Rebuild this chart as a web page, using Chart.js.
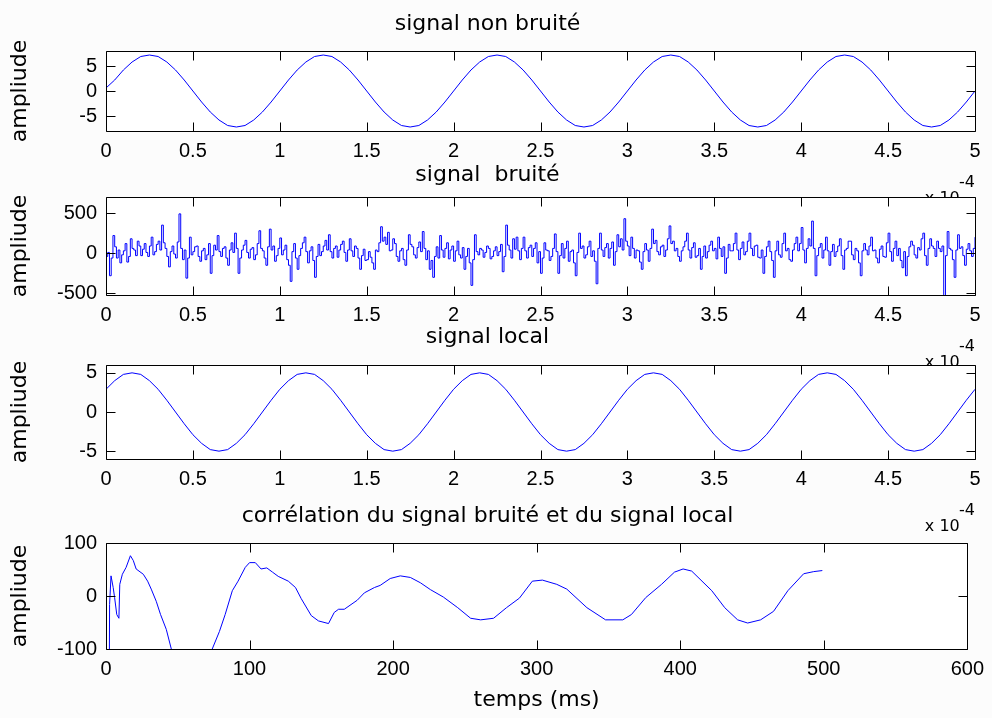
<!DOCTYPE html>
<html>
<head>
<meta charset="utf-8">
<script src="https://cdn.jsdelivr.net/npm/chart.js@4.4.1/dist/chart.umd.min.js"></script>
<style>
  html, body { margin: 0; padding: 0; background: #fcfcfc; }
  #figure { position: relative; width: 992px; height: 718px; overflow: hidden; }
  #figure canvas { position: absolute; left: 0; }
</style>
</head>
<body>
<div id="figure">
  <canvas id="c1"></canvas>
  <canvas id="c2"></canvas>
  <canvas id="c3"></canvas>
  <canvas id="c4"></canvas>
</div>
<script>
// pas d'échantillonnage (axe en x 10^-4 s)
const pasSignal = 0.05;
const pasBruit = 0.01;

const signalNonBruite = [
  0.6, 2.2, 4.2, 5.8, 6.9, 7.2, 6.9, 5.8, 4.2, 2.2, 0, -2.2, -4.2, -5.8, -6.9, -7.2, -6.9, -5.8, -4.2, -2.2,
  0, 2.2, 4.2, 5.8, 6.9, 7.2, 6.9, 5.8, 4.2, 2.2, 0, -2.2, -4.2, -5.8, -6.9, -7.2, -6.9, -5.8, -4.2, -2.2,
  0, 2.2, 4.2, 5.8, 6.9, 7.2, 6.9, 5.8, 4.2, 2.2, 0, -2.2, -4.2, -5.8, -6.9, -7.2, -6.9, -5.8, -4.2, -2.2,
  0, 2.2, 4.2, 5.8, 6.9, 7.2, 6.9, 5.8, 4.2, 2.2, 0, -2.2, -4.2, -5.8, -6.9, -7.2, -6.9, -5.8, -4.2, -2.2,
  0, 2.2, 4.2, 5.8, 6.9, 7.2, 6.9, 5.8, 4.2, 2.2, 0, -2.2, -4.2, -5.8, -6.9, -7.2, -6.9, -5.8, -4.2, -2.2,
  0
];

const signalBruite = [
  -40, 10, -280, -60, 220, 80, -60, 40, -120, -20, 30, 120, -110, -40, 180, 60, 40, -30, 150, 90,
  -30, 50, 120, 10, -40, 90, 200, -20, 20, 110, 150, 40, 350, 130, 60, -40, -170, 20, 90, -10,
  -60, 140, 490, 60, -80, 40, -310, -60, 200, -20, 20, 80, 90, -40, -100, 30, 60, -80, -20, 120,
  -250, -30, 100, 40, 220, 20, -40, 60, 80, -60, -150, 40, 130, 10, 250, 60, -250, -60, 40, 100,
  160, 10, -60, 50, 70, -80, -20, 120, 280, 60, 30, -60, -150, 80, 300, 40, 90, -100, -30, 60,
  190, -20, 40, 100, -80, -150, -350, 20, 120, -60, -200, -30, 60, 130, 200, 20, -120, 30, 80, -90,
  -300, -40, 110, -30, 20, 90, 160, 40, 230, 20, -60, 60, 90, -50, 40, 110, 150, 10, -100, 40,
  180, 30, -40, 90, 60, -60, -200, -30, 50, -90, -80, 20, -50, -120, -200, 40, 20, 130, 330, 150,
  200, 110, 260, 30, 40, 180, 120, -40, -100, 30, 60, -80, -150, 40, 230, 110, 80, -20, -60, 70,
  140, 20, 270, 60, -80, 30, -200, -90, -300, -40, 80, -60, 220, 40, -50, 60, 130, -70, 40, 90,
  -100, 30, 150, -20, -60, 70, -200, -40, 60, -120, -400, -80, 230, 20, -20, 60, 40, -50, 10, 90,
  60, -70, -40, 30, 80, -30, 20, 110, -230, -40, 350, 100, 40, -60, 180, 50, 200, 30, -80, 60,
  200, 30, -60, 70, 100, -40, 60, 130, -120, 20, -250, -60, 130, 40, 30, -90, -40, 60, 240, 20,
  -250, -30, 120, -60, 60, 150, -100, 20, 40, -120, -280, 10, 250, 60, 90, -60, -20, 80, 150, -40,
  30, -100, -380, 60, 250, 40, -40, 70, 120, -60, 60, 140, -150, 20, 230, 80, 180, 40, 430, 150,
  90, -30, 200, 60, -60, 40, 30, -110, -200, 20, 120, 40, -100, 60, 300, 120, 160, 20, -20, 80,
  100, -40, 40, 180, 340, 120, 150, 30, 60, -40, -100, 30, 80, 150, 250, 40, -60, 70, 130, -50,
  -30, 60, -200, -40, 90, -60, 20, 100, 150, 30, 60, -70, 200, 60, -40, 80, -250, -60, 110, 30,
  30, 120, 250, 40, -80, 60, 140, -20, 20, 150, 250, 60, -30, 90, 100, -50, -60, 40, -250, -40,
  80, 150, 20, -90, -300, 30, 150, -20, -50, 120, 250, 30, 60, -80, -100, 40, 120, 200, 30, 120,
  320, 40, -120, 60, 180, 90, 400, 60, -280, -30, 70, 120, -60, 40, 200, 30, -150, 20, 110, -40,
  20, 90, 180, -30, -200, 40, 60, 150, 150, -20, -80, 60, 30, -120, -280, 30, 120, 40, -20, 90,
  200, 30, 40, -60, -120, 50, 90, -40, -50, 130, 250, 20, -100, 60, 150, -30, 60, -90, -180, 20,
  -280, -40, 80, 150, 100, -20, -60, 70, 40, 180, 250, -30, -150, 60, 180, 90, 60, -40, 150, 60,
  20, 90, -600, -30, 270, 60, 40, -80, -300, 40, 230, 60, 80, -30, -150, 50, 120, 30, -40, 60,
  200
];

const signalLocal = [
  2.9, 4.0, 4.8, 5.0, 4.8, 4.0, 2.9, 1.5, 0, -1.5, -2.9, -4.0, -4.8, -5.0, -4.8, -4.0, -2.9, -1.5, 0, 1.5,
  2.9, 4.0, 4.8, 5.0, 4.8, 4.0, 2.9, 1.5, 0, -1.5, -2.9, -4.0, -4.8, -5.0, -4.8, -4.0, -2.9, -1.5, 0, 1.5,
  2.9, 4.0, 4.8, 5.0, 4.8, 4.0, 2.9, 1.5, 0, -1.5, -2.9, -4.0, -4.8, -5.0, -4.8, -4.0, -2.9, -1.5, 0, 1.5,
  2.9, 4.0, 4.8, 5.0, 4.8, 4.0, 2.9, 1.5, 0, -1.5, -2.9, -4.0, -4.8, -5.0, -4.8, -4.0, -2.9, -1.5, 0, 1.5,
  2.9, 4.0, 4.8, 5.0, 4.8, 4.0, 2.9, 1.5, 0, -1.5, -2.9, -4.0, -4.8, -5.0, -4.8, -4.0, -2.9, -1.5, 0, 1.5,
  2.9
];

// corrélation (temps en ms)
const corrTemps = [
  0, 2, 2.5, 3.5, 5, 6, 7.5, 9, 9.6, 11.4, 14, 17, 19, 21, 26, 29, 31.5, 35, 38, 42,
  45.5, 50, 55, 60, 65, 70, 74, 79, 83, 88, 92, 97, 100, 104, 108, 112, 116, 120, 127, 132,
  136, 143, 148, 155, 159, 162, 166, 175, 180, 187, 191, 198, 205, 212, 219, 226, 235, 245, 254, 261,
  270, 279, 288, 297, 304, 314, 321, 335, 348, 360, 366, 376, 387, 396, 402, 408, 422, 431, 440, 447,
  456, 465, 475, 486, 493, 499
];
const corrValeurs = [
  -400, -350, -16, 38, 16, -3, -35, -42, 22, 41, 54, 76, 67, 51, 41, 28, 13, -10, -35, -63,
  -100, -135, -160, -170, -160, -135, -100, -67, -35, 10, 28, 54, 63, 63, 51, 53, 45, 37, 28, 16,
  -5, -37, -47, -52, -31, -25, -25, -8, 6, 16, 20, 33, 38, 35, 25, 12, -2, -22, -42, -45,
  -42, -22, -4, 28, 30, 22, 13, -22, -45, -45, -35, -3, 22, 45, 51, 47, 10, -22, -45, -51,
  -45, -29, 10, 42, 46, 48
];

const titres = ['signal non bruité', 'signal  bruité', 'signal local', 'corrélation du signal bruité et du signal local'];
const xTicksSignal = [0, 0.5, 1, 1.5, 2, 2.5, 3, 3.5, 4, 4.5, 5];
const xTicksCorr = [0, 100, 200, 300, 400, 500, 600];
const yTicks1 = [-5, 0, 5];
const yTicks2 = [-500, 0, 500];
const yTicks3 = [-5, 0, 5];
const yTicks4 = [-100, 0, 100];

Chart.defaults.color = '#000';
Chart.defaults.font.family = 'Liberation Sans';

const tickFont = { family: 'Liberation Sans', size: 20 };
const texteFont = { family: 'DejaVu Sans', size: 22, weight: 'normal', lineHeight: 1.2 };

// fond blanc, cadre et graduations intérieures façon matlab
const cadre = {
  id: 'cadre',
  beforeDraw(chart) {
    const { ctx, chartArea: a } = chart;
    ctx.save();
    ctx.fillStyle = '#ffffff';
    ctx.fillRect(a.left, a.top, a.right - a.left + 1, a.bottom - a.top + 1);
    ctx.restore();
  },
  afterDatasetsDraw(chart) {
    const { ctx, chartArea: a, scales } = chart;
    const L = Math.round(a.left) + 0.5, R = Math.round(a.right) + 0.5;
    const T = Math.round(a.top) + 0.5, B = Math.round(a.bottom) + 0.5;
    const lg = 9;
    ctx.save();
    ctx.strokeStyle = '#000';
    ctx.lineWidth = 1;
    ctx.beginPath();
    ctx.rect(L, T, R - L, B - T);
    scales.x.ticks.forEach(t => {
      const x = Math.round(scales.x.getPixelForValue(t.value)) + 0.5;
      ctx.moveTo(x, B); ctx.lineTo(x, B - lg);
      ctx.moveTo(x, T); ctx.lineTo(x, T + lg);
    });
    scales.y.ticks.forEach(t => {
      const y = Math.round(scales.y.getPixelForValue(t.value)) + 0.5;
      ctx.moveTo(L, y); ctx.lineTo(L + lg, y);
      ctx.moveTo(R, y); ctx.lineTo(R - lg, y);
    });
    ctx.stroke();
    ctx.restore();
  }
};

function serie(valeurs, pas) {
  return valeurs.map((v, i) => ({ x: i * pas, y: v }));
}
function serieXY(xs, ys) {
  return xs.map((x, i) => ({ x: x, y: ys[i] }));
}

const exposant = {
  display: true,
  text: ['-4', 'x 10   '],
  align: 'end',
  color: '#000',
  font: { family: 'DejaVu Sans', size: 16, lineHeight: 1.0 },
  padding: { top: 0, bottom: 4.3 }
};

function panneau(id, o) {
  const canvas = document.getElementById(id);
  canvas.width = 992;
  canvas.height = o.hauteur;
  canvas.style.top = o.haut + 'px';
  return new Chart(canvas, {
    type: 'line',
    data: {
      datasets: [{
        data: o.points,
        borderColor: '#0000ff',
        borderWidth: 1,
        pointRadius: 0,
        tension: 0,
        stepped: o.stepped || false,
        fill: false
      }]
    },
    options: {
      responsive: false,
      animation: false,
      events: [],
      layout: { padding: { left: 0, right: 17, top: 0, bottom: 0 } },
      plugins: {
        legend: { display: false },
        tooltip: { enabled: false },
        title: {
          display: true,
          text: o.titre,
          color: '#000',
          font: texteFont,
          padding: { top: 4.5, bottom: o.ecartTitre }
        }
      },
      scales: {
        x: {
          type: 'linear',
          min: o.xMin,
          max: o.xMax,
          grid: { display: false, drawTicks: false },
          border: { display: false },
          afterBuildTicks: s => { s.ticks = o.xTicks.map(v => ({ value: v })); },
          afterFit: s => { s.height = o.hauteurAxeX; },
          ticks: { color: '#000', font: tickFont, padding: 8, maxRotation: 0, autoSkip: false, callback: v => String(v) },
          title: o.titreX
        },
        y: {
          type: 'linear',
          min: o.yMin,
          max: o.yMax,
          grid: { display: false, drawTicks: false },
          border: { display: false },
          afterBuildTicks: s => { s.ticks = o.yTicks.map(v => ({ value: v })); },
          afterFit: s => { s.width = 106; },
          ticks: { color: '#000', font: tickFont, padding: 9, autoSkip: false, callback: v => String(v) },
          title: { display: true, text: 'ampliude', color: '#000', font: texteFont, padding: { top: 7, bottom: 0 } }
        }
      }
    },
    plugins: [cadre]
  });
}

panneau('c1', {
  haut: 7, hauteur: 204, titre: titres[0], ecartTitre: 13.1, hauteurAxeX: 80,
  points: serie(signalNonBruite, pasSignal),
  xMin: 0, xMax: 5, xTicks: xTicksSignal, yMin: -8, yMax: 8, yTicks: yTicks1, titreX: exposant
});
panneau('c2', {
  haut: 158, hauteur: 217, titre: titres[1], ecartTitre: 8.1, hauteurAxeX: 80,
  points: serie(signalBruite, pasBruit), stepped: true,
  xMin: 0, xMax: 5, xTicks: xTicksSignal, yMin: -520, yMax: 700, yTicks: yTicks2, titreX: exposant
});
panneau('c3', {
  haut: 320, hauteur: 219, titre: titres[2], ecartTitre: 14.1, hauteurAxeX: 80,
  points: serie(signalLocal, pasSignal),
  xMin: 0, xMax: 5, xTicks: xTicksSignal, yMin: -6, yMax: 6, yTicks: yTicks3, titreX: exposant
});
panneau('c4', {
  haut: 499, hauteur: 219, titre: titres[3], ecartTitre: 13.1, hauteurAxeX: 69,
  points: serieXY(corrTemps, corrValeurs),
  xMin: 0, xMax: 600, xTicks: xTicksCorr, yMin: -100, yMax: 100, yTicks: yTicks4,
  titreX: { display: true, text: 'temps (ms)', color: '#000', font: texteFont, padding: { top: 0, bottom: 4.8 } }
});
</script>
</body>
</html>
